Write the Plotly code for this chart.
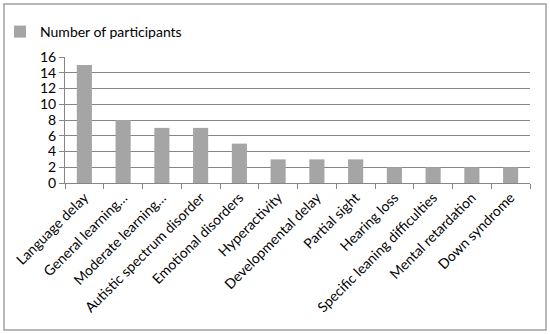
import plotly.graph_objects as go

categories = ["Language delay", "General learning…", "Moderate learning…",
              "Autistic spectrum disorder", "Emotional disorders", "Hyperactivity",
              "Developmental delay", "Partial sight", "Hearing loss",
              "Specific leaning difficulties", "Mental retardation", "Down syndrome"]
participants = [15, 8, 7, 7, 5, 3, 3, 3, 2, 2, 2, 2]
y_ticks = [0, 2, 4, 6, 8, 10, 12, 14, 16]

W, H = 550, 334
L, R, T, B = 65, 20, 57, 151
pw, ph = W - L - R, H - T - B

fig = go.Figure(go.Bar(
    x=categories, y=participants, name="Number of participants",
    marker=dict(color="#a5a5a5", line=dict(width=0)),
    width=0.39, showlegend=True,
))

fig.update_layout(
    width=W, height=H,
    margin=dict(l=L, r=R, t=T, b=B, autoexpand=False),
    paper_bgcolor="white", plot_bgcolor="white",
    font=dict(family="Lato", size=14, color="#000000"),
    showlegend=True,
    legend=dict(orientation="h", xref="container", yref="container",
                x=0 / W, y=1 - 32 / H,
                xanchor="left", yanchor="middle", font=dict(size=14),
                itemwidth=30, bgcolor="rgba(0,0,0,0)"),
    xaxis=dict(type="category", tickangle=-45, showgrid=False,
               showline=True, linecolor="#868686", linewidth=1,
               ticks="outside", tickson="boundaries", ticklen=5, tickcolor="#868686",
               tickfont=dict(size=14), automargin=False),
    yaxis=dict(range=[0, 16], tickvals=y_ticks, showgrid=True, gridcolor="#868686",
               gridwidth=1, showline=True, linecolor="#868686", linewidth=1,
               ticks="outside", ticklen=5, tickcolor="#868686",
               tickfont=dict(size=14), zeroline=False, automargin=False),
    shapes=[dict(type="rect", xref="paper", yref="paper",
                 x0=(4 - L) / pw, x1=(546 - L) / pw,
                 y0=(H - B - 330) / ph, y1=(H - B - 4) / ph,
                 line=dict(color="#a0a0a0", width=1.5), fillcolor="rgba(0,0,0,0)",
                 layer="below")],
)

fig.write_html("out.html", config={"displayModeBar": False},
               post_script="document.body.style.margin='0';document.body.style.overflow='hidden';")
